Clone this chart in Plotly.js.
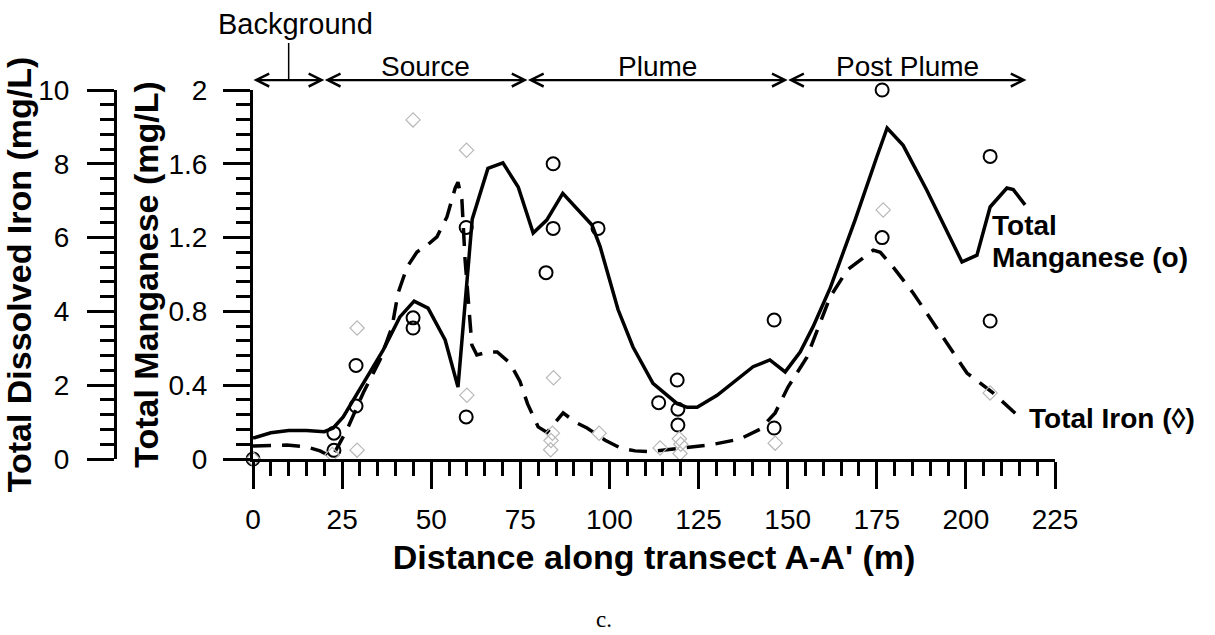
<!DOCTYPE html>
<html><head><meta charset="utf-8">
<script src="https://cdn.plot.ly/plotly-3.0.1.min.js"></script>
<style>html,body{margin:0;padding:0;background:#fff}#chart{width:1215px;height:635px}</style>
</head><body><div id="chart"></div>
<script>
// Total Manganese smoothed line (mg/L) vs distance (m)
const mnLineX = [0, 5, 10, 15, 20, 22.5, 25.3, 29.2, 36.5, 41.2, 45.2, 49.1, 53.9, 57.5, 61.5, 65.9, 70.1, 74.4, 78.6, 82.4, 86.9, 95.1, 97.4, 102.4, 106.6, 112.2, 119, 121.8, 124.6, 130.2, 140.3, 145, 149.3, 153.5, 157.1, 162, 168.9, 175, 177.9, 182.4, 189, 198.9, 203.1, 206.8, 211.5, 213.3, 216.6];
const mnLineY = [0.113, 0.142, 0.155, 0.155, 0.148, 0.168, 0.228, 0.357, 0.59, 0.77, 0.856, 0.818, 0.645, 0.39, 1.30, 1.575, 1.605, 1.474, 1.225, 1.295, 1.44, 1.268, 1.15, 0.81, 0.607, 0.41, 0.30, 0.28, 0.28, 0.345, 0.50, 0.537, 0.472, 0.58, 0.716, 0.93, 1.295, 1.637, 1.794, 1.70, 1.458, 1.068, 1.105, 1.366, 1.469, 1.46, 1.377];

// Total Iron smoothed line (mg/L) vs distance (m)
const feLineX = [0, 9.5, 15, 18.8, 22.2, 26.4, 30.9, 35.6, 39, 40.7, 43.2, 46, 48.3, 51.6, 54.4, 56.7, 57.5, 58.6, 59.5, 60.6, 61.4, 62.8, 66, 68.5, 72.1, 74.9, 77, 80, 82.5, 87, 90.4, 93.7, 98.8, 103, 107.2, 111.4, 116, 121.8, 128.2, 136.6, 142.3, 146.5, 150.1, 155.4, 161.9, 166.7, 174, 176, 179.6, 185.2, 192.8, 200.3, 207.6, 214.4];
const feLineY = [0.35, 0.38, 0.33, 0.22, 0.05, 0.8, 1.79, 2.68, 3.58, 4.5, 5.2, 5.61, 5.75, 6.02, 6.56, 7.34, 7.5, 7.02, 5.39, 4.12, 3.09, 2.82, 2.9, 2.9, 2.6, 2.1, 1.5, 0.87, 0.72, 1.25, 1.0, 0.84, 0.51, 0.3, 0.22, 0.2, 0.25, 0.33, 0.38, 0.54, 0.81, 1.25, 1.95, 2.76, 4.39, 5.12, 5.66, 5.6, 5.2, 4.5, 3.41, 2.33, 1.79, 1.19];

// Measured Total Manganese (open circles)
const mnPtX = [0, 22.7, 22.7, 28.9, 28.9, 44.9, 44.9, 59.8, 59.8, 82.2, 84.2, 84.2, 96.8, 113.8, 119.0, 119.2, 119.2, 146.2, 146.2, 176.5, 176.5, 206.8, 206.8];
const mnPtY = [0, 0.14, 0.047, 0.507, 0.287, 0.765, 0.71, 1.255, 0.228, 1.01, 1.60, 1.25, 1.25, 0.305, 0.428, 0.27, 0.184, 0.753, 0.168, 2.0, 1.20, 1.64, 0.748];

// Measured Total Iron (grey diamonds)
const fePtX = [0, 22.2, 29.2, 29.2, 44.9, 59.9, 60, 83.5, 84.3, 83.6, 84, 97.1, 114.2, 119.8, 120, 119.6, 146.5, 176.8, 206.8];
const fePtY = [0, 0.12, 3.55, 0.24, 9.19, 8.37, 1.73, 0.25, 2.2, 0.5, 0.7, 0.7, 0.3, 0.15, 0.4, 0.55, 0.43, 6.75, 1.79];

// Zones along the transect
const zoneBounds = [0, 20, 77, 150, 217];
const zoneNames = ['Background', 'Source', 'Plume', 'Post Plume'];

const FONT = '"Liberation Sans", Arial, Helvetica, sans-serif';

const traces = [
  {x: mnLineX, y: mnLineY, type: 'scatter', mode: 'lines', name: 'Total Manganese',
   line: {color: '#000', width: 3.5}, cliponaxis: false, hoverinfo: 'skip'},
  {x: feLineX, y: feLineY, type: 'scatter', mode: 'lines', name: 'Total Iron', yaxis: 'y2',
   line: {color: '#000', width: 3.5, dash: '18px,11px'}, cliponaxis: false, hoverinfo: 'skip'},
  {x: fePtX, y: fePtY, type: 'scatter', mode: 'markers', name: 'Total Iron (measured)', yaxis: 'y2',
   marker: {symbol: 'diamond-open', size: 11, color: '#b8b8b8', line: {width: 1.2}}, cliponaxis: false},
  {x: mnPtX, y: mnPtY, type: 'scatter', mode: 'markers', name: 'Total Manganese (measured)',
   marker: {symbol: 'circle-open', size: 13, color: '#000', line: {width: 2}}, cliponaxis: false}
];

const annotations = [];
const arrowY = 1.027;
for (let i = 0; i < zoneNames.length; i++) {
  const a = zoneBounds[i], b = zoneBounds[i + 1];
  annotations.push({
    xref: 'x', yref: 'paper', x: b, y: arrowY, axref: 'x', ayref: 'pixel', ax: a, ay: 0,
    text: ' ', font: {size: 1}, borderpad: 0, showarrow: true, arrowside: 'end+start',
    arrowhead: 5, startarrowhead: 5, arrowsize: 1.1, startarrowsize: 1.1, arrowwidth: 2.3,
    arrowcolor: '#000', standoff: 0, startstandoff: 0
  });
  const mid = (a + b) / 2;
  if (i === 0) {
    annotations.push({xref: 'x', yref: 'paper', x: mid, y: arrowY, axref: 'x', ayref: 'pixel', ax: mid, ay: -38,
      text: ' ', font: {size: 1}, borderpad: 0, showarrow: true, arrowhead: 0, arrowwidth: 1.5, arrowcolor: '#000',
      standoff: 0, startstandoff: 0});
    annotations.push({xref: 'x', yref: 'paper', x: mid + 1.8, y: 1.18, text: zoneNames[i], showarrow: false,
      xanchor: 'center', yanchor: 'middle', font: {size: 29, family: FONT, color: '#000'}});
  } else {
    annotations.push({xref: 'x', yref: 'paper', x: mid, y: 1.065, text: zoneNames[i], showarrow: false,
      xanchor: 'center', yanchor: 'middle', font: {size: 28, family: FONT, color: '#000'}});
  }
}
annotations.push({xref: 'x', yref: 'y', x: 206.8, y: 1.268, text: 'Total', showarrow: false,
  xanchor: 'left', yanchor: 'middle', font: {size: 28, family: FONT, color: '#000', weight: 'bold'}});
annotations.push({xref: 'x', yref: 'y', x: 206.8, y: 1.09, text: 'Manganese (o)', showarrow: false,
  xanchor: 'left', yanchor: 'middle', font: {size: 28, family: FONT, color: '#000', weight: 'bold'}});
annotations.push({xref: 'x', yref: 'y2', x: 217.2, y: 1.11, text: 'Total Iron (◊)', showarrow: false,
  xanchor: 'left', yanchor: 'middle', font: {size: 28, family: FONT, color: '#000', weight: 'bold'}});
annotations.push({xref: 'paper', yref: 'paper', x: 0.547, y: -0.472, text: 'c.', showarrow: false,
  xanchor: 'center', yanchor: 'bottom', borderpad: 0,
  font: {size: 23, family: '"Liberation Serif", "Times New Roman", serif', color: '#000'}});

const axisCommon = {
  ticks: 'outside', ticklen: 27, tickwidth: 3, tickcolor: '#000',
  showline: true, linewidth: 3, linecolor: '#000', showgrid: false, zeroline: false,
  tickfont: {size: 28, family: FONT, color: '#000'}, automargin: false
};

const titleFont = {size: 34, family: FONT, color: '#000', weight: 'bold'};

const layout = {
  width: 1215, height: 635,
  margin: {l: 60, r: 160, t: 90, b: 176},
  paper_bgcolor: '#fff', plot_bgcolor: 'rgba(0,0,0,0)',
  showlegend: false,
  font: {family: FONT, color: '#000', size: 28},
  xaxis: Object.assign({}, axisCommon, {
    domain: [0.194, 1], range: [0, 225], tick0: 0, dtick: 25,
    minor: {dtick: 5, ticks: 'outside', ticklen: 14, tickwidth: 3, tickcolor: '#000', showgrid: false},
    ticklabelstandoff: 6,
    title: {text: "Distance along transect A-A' (m)", font: titleFont, standoff: 12}
  }),
  yaxis: Object.assign({}, axisCommon, {
    range: [0, 2], tick0: 0, dtick: 0.4,
    minor: {dtick: 0.08, ticks: 'outside', ticklen: 14, tickwidth: 3, tickcolor: '#000', showgrid: false},
    ticklabelstandoff: 10,
    title: {text: 'Total Manganese (mg/L)', font: titleFont, standoff: 0}
  }),
  yaxis2: Object.assign({}, axisCommon, {
    overlaying: 'y', anchor: 'free', position: 0.0553, side: 'left',
    range: [0, 10], tick0: 0, dtick: 2,
    minor: {dtick: 0.4, ticks: 'outside', ticklen: 14, tickwidth: 3, tickcolor: '#000', showgrid: false},
    ticklabelstandoff: 12,
    title: {text: 'Total Dissolved Iron (mg/L)', font: titleFont, standoff: 0}
  }),
  annotations: annotations
};

Plotly.newPlot('chart', traces, layout, {displayModeBar: false, staticPlot: true});
</script>
</body></html>
